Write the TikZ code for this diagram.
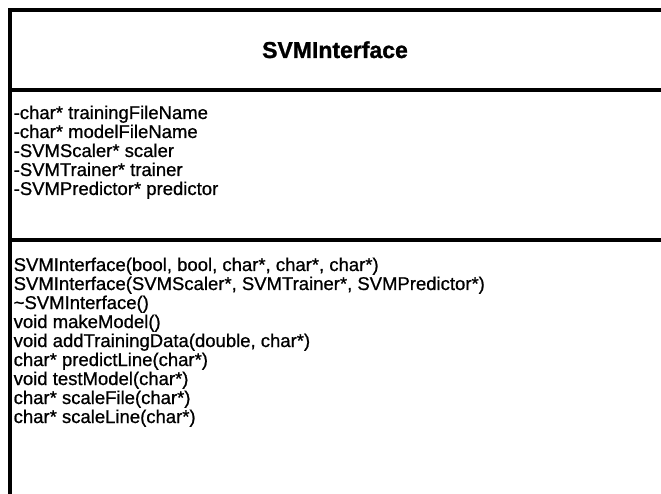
\documentclass[tikz,border=0pt]{standalone}
\usepackage{fontspec}
\setmainfont{Liberation Sans}
\newfontfamily\memberfont[FakeBold=0.8]{Liberation Sans}
\newfontfamily\classfont[FakeBold=1.2]{Liberation Sans Bold}
\begin{document}
\begin{tikzpicture}[x=1pt,y=-1pt,
  frame/.style={line width=3.5pt, line join=miter},
  member/.style={anchor=base west, inner sep=0pt, font=\memberfont\fontsize{18.5}{19}\selectfont},
  classname/.style={anchor=base, inner sep=0pt, font=\classfont\fontsize{23}{24}\selectfont}]
\useasboundingbox (0,0) rectangle (661,494);

% outline of the class box (right side runs off the page)
\coordinate (tl) at (10,10);
\coordinate (tr) at (664,10);
\coordinate (bl) at (10,496);
\coordinate (s1l) at (10,90);
\coordinate (s1r) at (664,90);
\coordinate (s2l) at (10,240);
\coordinate (s2r) at (664,240);
\draw[frame] (tr) -- (tl) -- (bl);
\draw[frame] (s1l) -- (s1r);
\draw[frame] (s2l) -- (s2r);

% class name
\node[classname] (title) at (335,58) {SVMInterface};

% attributes
\foreach \t [count=\i] in {-char* trainingFileName, -char* modelFileName,
  -SVMScaler* scaler, -SVMTrainer* trainer, -SVMPredictor* predictor}
  \node[member] (a\i) at (13.5,{119+19*(\i-1)}) {\t};

% operations
\foreach \t [count=\i] in {{SVMInterface(bool, bool, char*, char*, char*)},
  {SVMInterface(SVMScaler*, SVMTrainer*, SVMPredictor*)},
  \textasciitilde SVMInterface(), void makeModel(),
  {void addTrainingData(double, char*)}, char* predictLine(char*),
  void testModel(char*), char* scaleFile(char*), char* scaleLine(char*)}
  \node[member] (m\i) at (13.5,{271+19*(\i-1)}) {\t};
\end{tikzpicture}
\end{document}
